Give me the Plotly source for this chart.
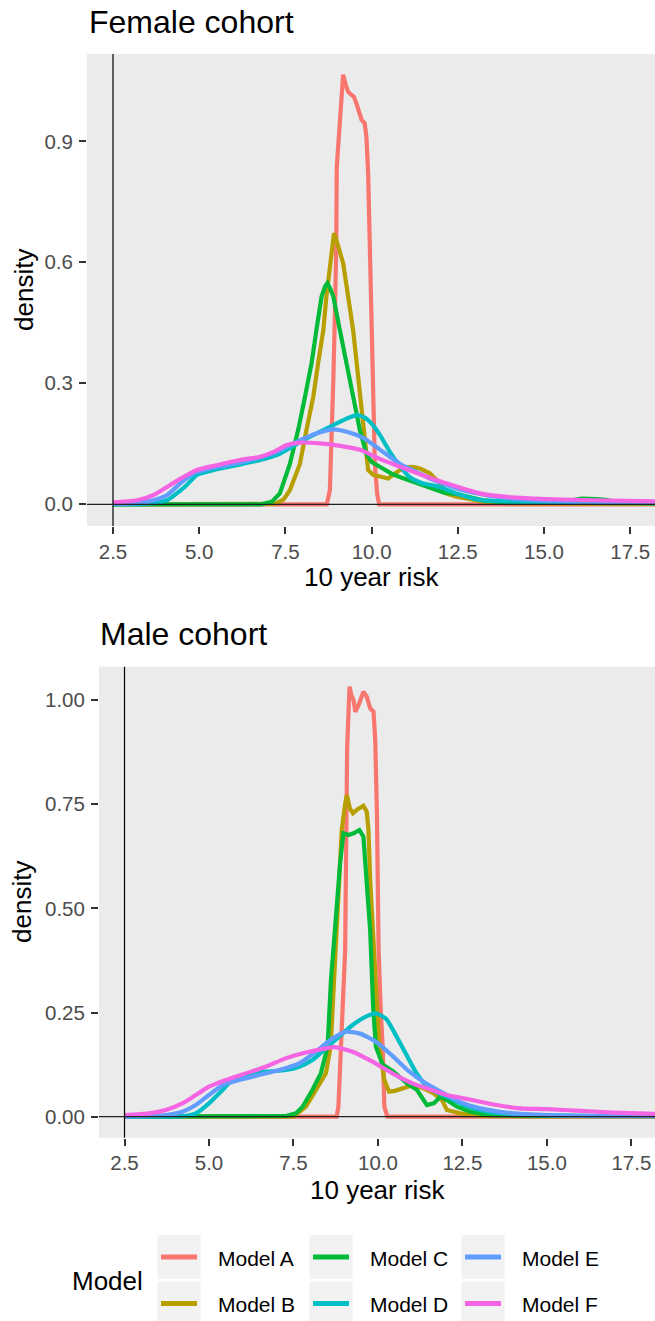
import plotly.graph_objects as go

# ---------------------------------------------------------------------------
# Density curves of predicted 10 year risk, by model and cohort
# ---------------------------------------------------------------------------
MODELS = ["Model A", "Model B", "Model C", "Model D", "Model E", "Model F"]
COLORS = ["#F8766D", "#B79F00", "#00BA38", "#00BFC4", "#619CFF", "#F564E3"]

# ---- Female cohort ----
F_A_X = [2.5, 8.70, 8.79, 8.84, 8.89, 8.935, 8.975, 8.99, 9.06, 9.12, 9.175, 9.25, 9.32, 9.42,
         9.49, 9.56, 9.66, 9.71, 9.80, 9.85, 9.90, 9.93, 9.95, 9.99, 10.045, 10.095, 10.16, 10.22, 18.5]
F_A_Y = [0, 0, 0.035, 0.143, 0.308, 0.47, 0.64, 0.837, 0.936, 1.00, 1.065, 1.04, 1.023, 1.015,
         1.010, 0.994, 0.961, 0.953, 0.945, 0.911, 0.821, 0.713, 0.63, 0.42, 0.267, 0.10, 0.027, 0, 0]

F_B_X = [2.5, 6.9, 7.1, 7.25, 7.45, 7.63, 7.80, 7.92, 8.11, 8.31, 8.45, 8.60, 8.69, 8.79, 8.86,
         8.91, 8.98, 9.175, 9.465, 9.66, 9.755, 9.85, 9.90, 10.045, 10.24, 10.48, 10.62, 10.82,
         11.0, 11.2, 11.4, 11.69, 11.98, 12.17, 12.46, 12.85, 13.3, 14.0, 15.0, 16.5, 18.5]
F_B_Y = [0, 0, 0.001, 0.003, 0.012, 0.035, 0.07, 0.10, 0.184, 0.267, 0.35, 0.432, 0.515, 0.598,
         0.645, 0.672, 0.655, 0.598, 0.432, 0.267, 0.20, 0.118, 0.085, 0.073, 0.068, 0.064, 0.073,
         0.085, 0.092, 0.093, 0.089, 0.077, 0.052, 0.027, 0.019, 0.012, 0.006, 0.003, 0.002, 0.002, 0.001]

F_C_X = [2.5, 6.8, 7.1, 7.34, 7.63, 7.87, 8.07, 8.26, 8.40, 8.55, 8.65, 8.72, 8.80, 8.89, 9.08,
         9.27, 9.47, 9.66, 9.85, 10.0, 10.3, 10.6, 10.9, 11.2, 11.5, 11.8, 12.1, 12.5, 12.9, 13.3,
         13.8, 14.5, 15.5, 15.8, 16.1, 16.5, 16.8, 17.2, 18.5]
F_C_Y = [0, 0, 0.006, 0.027, 0.10, 0.184, 0.267, 0.35, 0.432, 0.515, 0.54, 0.548, 0.535, 0.515,
         0.432, 0.35, 0.267, 0.184, 0.125, 0.105, 0.09, 0.075, 0.065, 0.056, 0.046, 0.036, 0.029,
         0.025, 0.018, 0.009, 0.005, 0.004, 0.004, 0.010, 0.014, 0.013, 0.011, 0.004, 0.002]

F_D_X = [2.5, 3.2, 3.68, 4.07, 4.35, 4.64, 4.93, 5.42, 6.09, 6.77, 7.35, 7.93, 8.51, 9.09, 9.56,
         9.80, 10.0, 10.24, 10.53, 10.82, 11.11, 11.45, 11.98, 12.46, 13.14, 14.1, 15.5, 17.0, 18.5]
F_D_Y = [0, 0, 0.0025, 0.01, 0.027, 0.048, 0.073, 0.085, 0.097, 0.11, 0.126, 0.155, 0.18, 0.205,
         0.221, 0.215, 0.20, 0.172, 0.13, 0.095, 0.067, 0.053, 0.043, 0.027, 0.011, 0.0065, 0.004,
         0.003, 0.003]

F_E_X = [2.5, 3.2, 3.68, 4.07, 4.45, 4.84, 5.32, 6.0, 6.67, 7.25, 7.83, 8.41, 8.9, 9.28, 9.77,
         10.25, 10.83, 11.31, 11.69, 12.65, 13.62, 14.59, 16.04, 18.5]
F_E_Y = [0.001, 0.003, 0.01, 0.023, 0.052, 0.077, 0.089, 0.10, 0.114, 0.13, 0.155, 0.176, 0.186,
         0.18, 0.164, 0.135, 0.10, 0.08, 0.064, 0.035, 0.019, 0.011, 0.0065, 0.004]

F_F_X = [2.5, 3.2, 3.68, 4.16, 4.55, 4.93, 5.51, 6.19, 6.77, 7.16, 7.54, 7.93, 8.51, 9.09, 9.67,
         10.25, 10.83, 11.2, 11.69, 12.17, 13.14, 14.1, 15.07, 16.52, 18.5]
F_F_Y = [0.005, 0.01, 0.023, 0.048, 0.068, 0.085, 0.097, 0.11, 0.118, 0.13, 0.147, 0.153, 0.151,
         0.145, 0.135, 0.112, 0.093, 0.081, 0.066, 0.052, 0.027, 0.017, 0.013, 0.010, 0.007]

# ---- Male cohort ----
M_A_X = [2.5, 8.78, 8.83, 8.88, 8.93, 8.99, 9.03, 9.06, 9.09, 9.16, 9.22, 9.28, 9.33, 9.43, 9.50,
         9.57, 9.67, 9.77, 9.87, 9.92, 9.97, 10.02, 10.08, 10.14, 10.19, 10.28, 18.5]
M_A_Y = [0, 0, 0.024, 0.12, 0.2, 0.30, 0.40, 0.648, 0.888, 1.032, 1.01, 1.0, 0.972, 0.988, 1.005,
         1.02, 1.008, 0.98, 0.972, 0.904, 0.728, 0.40, 0.26, 0.168, 0.024, 0, 0]

M_B_X = [2.5, 7.5, 7.87, 8.16, 8.46, 8.60, 8.71, 8.80, 8.93, 9.03, 9.08, 9.17, 9.26, 9.40, 9.57,
         9.67, 9.72, 9.77, 9.85, 9.92, 10.04, 10.19, 10.33, 10.50, 10.76, 11.05, 11.35, 11.65,
         11.9, 12.04, 12.44, 13.03, 14.5, 18.5]
M_B_Y = [0, 0, 0.024, 0.064, 0.104, 0.168, 0.328, 0.50, 0.688, 0.75, 0.772, 0.74, 0.728, 0.738,
         0.746, 0.732, 0.688, 0.568, 0.448, 0.34, 0.168, 0.088, 0.06, 0.062, 0.068, 0.076, 0.068,
         0.056, 0.04, 0.016, 0.008, 0.002, 0.001, 0.001]

M_C_X = [2.5, 7.3, 7.57, 7.77, 8.06, 8.31, 8.51, 8.61, 8.70, 8.76, 8.88, 8.98, 9.13, 9.28, 9.45,
         9.57, 9.67, 9.77, 9.82, 9.86, 9.94, 10.07, 10.14, 10.46, 10.86, 11.16, 11.45, 11.65, 11.85,
         12.04, 12.34, 12.73, 13.33, 14.5, 18.5]
M_C_Y = [0, 0.002, 0.008, 0.024, 0.064, 0.104, 0.168, 0.328, 0.42, 0.488, 0.608, 0.68, 0.676,
         0.68, 0.688, 0.672, 0.568, 0.448, 0.344, 0.26, 0.168, 0.14, 0.125, 0.108, 0.08, 0.064,
         0.028, 0.032, 0.048, 0.04, 0.024, 0.012, 0.004, 0.002, 0.001]

M_D_X = [2.5, 3.5, 4.21, 4.61, 5.0, 5.40, 5.69, 6.09, 6.68, 7.27, 7.67, 8.06, 8.46, 8.85, 9.25,
         9.64, 9.94, 10.24, 10.50, 10.80, 11.10, 11.40, 11.70, 12.04, 12.54, 13.23, 14.51, 18.5]
M_D_Y = [0, 0, 0.001, 0.008, 0.032, 0.064, 0.088, 0.10, 0.108, 0.112, 0.12, 0.136, 0.164, 0.192,
         0.22, 0.24, 0.248, 0.235, 0.20, 0.155, 0.11, 0.077, 0.060, 0.048, 0.028, 0.012, 0.004, 0.002]

M_E_X = [2.5, 3.72, 4.21, 4.61, 5.0, 5.40, 5.89, 6.48, 7.08, 7.67, 8.16, 8.66, 9.05, 9.45, 9.94,
         10.43, 10.93, 11.42, 12.04, 12.54, 13.03, 14.02, 16.0, 18.5]
M_E_Y = [0.0, 0.004, 0.012, 0.028, 0.052, 0.076, 0.088, 0.10, 0.112, 0.128, 0.156, 0.188, 0.204,
         0.20, 0.18, 0.146, 0.108, 0.08, 0.052, 0.032, 0.02, 0.008, 0.002, 0.001]

M_F_X = [2.5, 3.23, 3.72, 4.21, 4.61, 5.0, 5.50, 6.09, 6.68, 7.27, 7.87, 8.46, 8.72, 9.25, 9.84,
         10.43, 11.02, 11.52, 12.04, 12.54, 13.03, 13.52, 14.22, 15.01, 16.0, 16.98, 18.5]
M_F_Y = [0.004, 0.008, 0.016, 0.032, 0.052, 0.072, 0.088, 0.104, 0.12, 0.14, 0.154, 0.164, 0.167,
         0.156, 0.132, 0.104, 0.08, 0.066, 0.052, 0.044, 0.036, 0.028, 0.02, 0.018, 0.014, 0.01, 0.006]

FEMALE = [(F_A_X, F_A_Y), (F_B_X, F_B_Y), (F_C_X, F_C_Y), (F_D_X, F_D_Y), (F_E_X, F_E_Y), (F_F_X, F_F_Y)]
MALE = [(M_A_X, M_A_Y), (M_B_X, M_B_Y), (M_C_X, M_C_Y), (M_D_X, M_D_Y), (M_E_X, M_E_Y), (M_F_X, M_F_Y)]

X_TICKS = [2.5, 5.0, 7.5, 10.0, 12.5, 15.0, 17.5]
X_TICK_TEXT = ["2.5", "5.0", "7.5", "10.0", "12.5", "15.0", "17.5"]
F_Y_TICKS = [0.0, 0.3, 0.6, 0.9]
F_Y_TICK_TEXT = ["0.0", "0.3", "0.6", "0.9"]
M_Y_TICKS = [0.0, 0.25, 0.5, 0.75, 1.0]
M_Y_TICK_TEXT = ["0.00", "0.25", "0.50", "0.75", "1.00"]

# ---------------------------------------------------------------------------
W, H = 655, 1321
FONT = "Liberation Sans, Arial, Helvetica, sans-serif"
TICK_SIZE = 20.5
LEGEND_SIZE = 21
AXIS_TITLE_SIZE = 26
TITLE_SIZE = 32
LINE_W = 4.2


def px(p):
    return p / W


def py(p):
    return 1 - p / H


fig = go.Figure()

# Smooth shapes for the broad curves, straight segments for the narrow ones
SMOOTH = [False, False, False, True, True, True]

for (xs, ys), name, col, sm in zip(FEMALE, MODELS, COLORS, SMOOTH):
    fig.add_trace(go.Scatter(
        x=xs, y=ys, name=name, mode="lines", xaxis="x", yaxis="y", showlegend=False,
        line=dict(color=col, width=LINE_W, shape="spline" if sm else "linear", smoothing=0.6),
    ))
for (xs, ys), name, col, sm in zip(MALE, MODELS, COLORS, SMOOTH):
    fig.add_trace(go.Scatter(
        x=xs, y=ys, name=name, mode="lines", xaxis="x2", yaxis="y2", showlegend=False,
        line=dict(color=col, width=LINE_W, shape="spline" if sm else "linear", smoothing=0.6),
    ))

axis_common = dict(
    showgrid=False, zeroline=False, showline=False,
    ticks="outside", ticklen=7, tickwidth=2, tickcolor="#333333",
    tickfont=dict(family=FONT, size=TICK_SIZE, color="#4D4D4D"),
    tickmode="array",
)

fig.update_layout(
    width=W, height=H,
    margin=dict(l=0, r=0, t=0, b=0),
    paper_bgcolor="white",
    plot_bgcolor="#EBEBEB",
    showlegend=False,
    xaxis=dict(domain=[px(87), 1.0], range=[1.746, 18.22], anchor="y",
               tickvals=X_TICKS, ticktext=X_TICK_TEXT, **axis_common),
    yaxis=dict(domain=[py(526), py(54)], range=[-0.0538, 1.1165], anchor="x",
               tickvals=F_Y_TICKS, ticktext=F_Y_TICK_TEXT, ticklabelstandoff=2, **axis_common),
    xaxis2=dict(domain=[px(99), 1.0], range=[1.745, 18.2], anchor="y2",
                tickvals=X_TICKS, ticktext=X_TICK_TEXT, **axis_common),
    yaxis2=dict(domain=[py(1137.7), py(666.7)], range=[-0.0504, 1.08], anchor="x2",
                tickvals=M_Y_TICKS, ticktext=M_Y_TICK_TEXT, ticklabelstandoff=2, **axis_common),
)

# Reference lines at x = 2.5 and density = 0 in both panels
shapes = []
for xa, ya in [("x", "y"), ("x2", "y2")]:
    shapes.append(dict(type="line", xref=xa, yref=f"{ya} domain", x0=2.5, x1=2.5, y0=0, y1=1,
                       line=dict(color="#000000", width=1.2), layer="above"))
    shapes.append(dict(type="line", xref=f"{xa} domain", yref=ya, x0=0, x1=1, y0=0, y1=0,
                       line=dict(color="#222222", width=1.2), layer="above"))

annotations = []


def text(s, x, y, size, color="black", xanchor="left", angle=0):
    annotations.append(dict(text=s, x=px(x), y=py(y), xref="paper", yref="paper",
                            xanchor=xanchor, yanchor="middle", showarrow=False, textangle=angle,
                            font=dict(family=FONT, size=size, color=color)))


# Panel titles
text("Female cohort", 87, 22, TITLE_SIZE)
text("Male cohort", 98, 634, TITLE_SIZE)
# Axis titles
text("10 year risk", 371, 577, AXIS_TITLE_SIZE, xanchor="center")
text("10 year risk", 377, 1190, AXIS_TITLE_SIZE, xanchor="center")
text("density", 24, 290, AXIS_TITLE_SIZE, xanchor="center", angle=-90)
text("density", 22, 902, AXIS_TITLE_SIZE, xanchor="center", angle=-90)

# Legend: three columns of two keys, filled column by column
text("Model", 70, 1281, AXIS_TITLE_SIZE)
COL_X = [157.5, 309.5, 461.5]
ROW_Y = [1235, 1281.5]
KEY_W, KEY_H = 43, 44
for i, (name, col) in enumerate(zip(MODELS, COLORS)):
    c, r = divmod(i, 2)
    x0, y0 = COL_X[c], ROW_Y[r]
    shapes.append(dict(type="rect", xref="paper", yref="paper",
                       x0=px(x0), x1=px(x0 + KEY_W), y0=py(y0 + KEY_H), y1=py(y0),
                       fillcolor="#F2F2F2", line=dict(width=0), layer="below"))
    cy = y0 + KEY_H / 2
    shapes.append(dict(type="line", xref="paper", yref="paper",
                       x0=px(x0 + 3.5), x1=px(x0 + 39.5), y0=py(cy), y1=py(cy),
                       line=dict(color=col, width=5)))
    text(name, x0 + 58, cy + 1, LEGEND_SIZE)

fig.update_layout(shapes=shapes, annotations=annotations)

fig.write_html("out.html")
